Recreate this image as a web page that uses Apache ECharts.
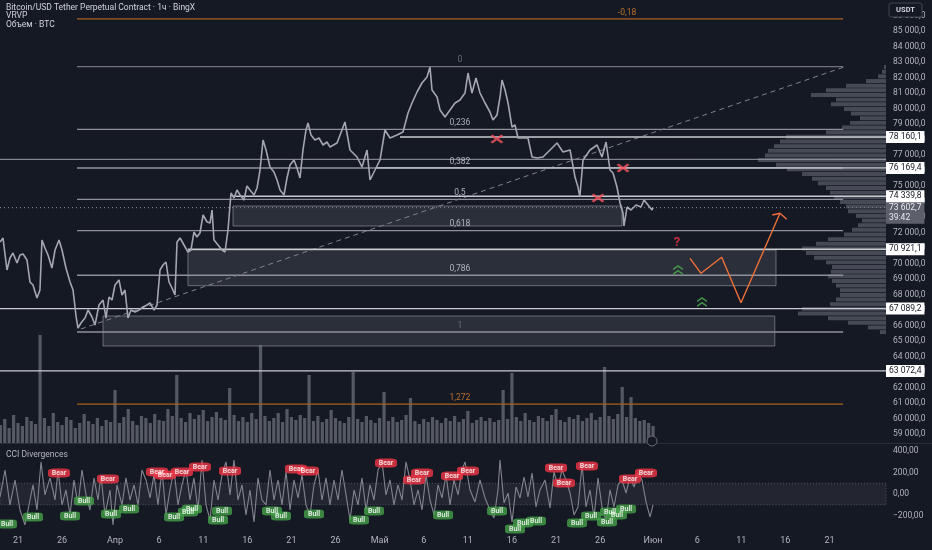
<!DOCTYPE html>
<html><head><meta charset="utf-8">
<script src="https://cdn.jsdelivr.net/npm/echarts@6/dist/echarts.min.js"></script>
<style>html,body{margin:0;padding:0;background:#151924;}#c{width:932px;height:550px;}</style>
</head><body><div id="c"></div>
<script>
// ---------- data ----------
const tickDays   = [0,5,11,16,21,26,31,36,41,46,51,56,61,66,72,77,82,87,92]; // days since 21 Mar
const tickLabels = ['21','26','Апр','6','11','16','21','26','Май','6','11','16','21','26','Июн','6','11','16','21'];
const priceTicks = [59000,60000,61000,62000,63000,64000,65000,66000,67000,68000,69000,70000,71000,72000,73000,74000,75000,76000,77000,78000,79000,80000,81000,82000,83000,84000,85000,86000];
const cciTicks   = [400,200,0,-200];

const price = [[-2.04,71387],[-1.70,71645],[-1.25,69581],[-0.91,70355],[-0.57,70677],[-0.11,70032],[0.23,70548],[0.57,70613],[1.02,70226],[1.36,68807],[1.70,68613],[2.15,67774],[2.49,68290],[2.72,71516],[3.06,71000],[3.40,70548],[3.85,69710],[4.20,70871],[4.65,71516],[4.99,70871],[5.44,69710],[5.90,68807],[6.24,68290],[6.58,66613],[6.80,65839],[7.14,66161],[7.60,66484],[7.94,67000],[8.39,66548],[8.73,66032],[9.18,67323],[9.64,67645],[9.98,66484],[10.32,67839],[10.66,67645],[11.00,68613],[11.45,68936],[11.79,67968],[12.13,68290],[12.47,66484],[12.81,67000],[13.27,66871],[13.72,67000],[14.17,67194],[14.63,67323],[14.97,67452],[15.42,67000],[15.76,67323],[16.10,69581],[16.44,69903],[16.78,70097],[17.12,68807],[17.46,68419],[17.80,67968],[18.03,71387],[18.37,71645],[18.82,71194],[19.27,70742],[19.61,70871],[19.95,72032],[20.29,71710],[20.63,71968],[20.98,73129],[21.43,72677],[21.77,72613],[22.00,73452],[22.22,71516],[22.68,71194],[23.13,70871],[23.47,70742],[23.81,72161],[24.15,74548],[24.49,74226],[24.83,74742],[25.17,74419],[25.62,74097],[25.96,75000],[26.30,74742],[26.76,74419],[27.10,74871],[27.44,76032],[27.78,77968],[28.12,77323],[28.57,76226],[29.02,75903],[29.37,75387],[29.71,74742],[30.16,74419],[30.50,75516],[30.84,76355],[31.29,76677],[31.63,76161],[31.97,75516],[32.31,77323],[32.65,78613],[32.88,79065],[33.22,78290],[33.67,77968],[34.13,78097],[34.58,77645],[35.03,77839],[35.37,77516],[36.17,77774],[37.07,79129],[37.64,77323],[38.44,76871],[39.00,76226],[39.57,77323],[39.91,75387],[40.48,76032],[41.04,76677],[41.61,78613],[42.18,78097],[42.97,78290],[43.65,78484],[44.22,79710],[44.67,80355],[45.24,81065],[45.80,81645],[46.37,82032],[46.71,82677],[46.94,81194],[47.51,80742],[47.85,79903],[48.41,79452],[48.98,79903],[49.55,80355],[50.11,80548],[50.68,81000],[51.02,82290],[51.47,81000],[51.93,81968],[52.38,81000],[52.95,80355],[53.51,79774],[53.85,79258],[54.31,79581],[54.65,80742],[54.88,81839],[55.22,81194],[55.56,80355],[56.01,78806],[56.35,78935],[56.69,78097],[57.26,78097],[57.82,78097],[58.28,76871],[58.84,76806],[59.52,76871],[60.32,77323],[61.11,77774],[61.79,77194],[62.59,77323],[63.15,75581],[63.49,74935],[63.70,74290],[64.06,76677],[64.85,77323],[65.65,77645],[66.21,76871],[66.67,77839],[67.12,76032],[67.46,75839],[67.91,74935],[68.25,73903],[68.59,73258],[68.70,72419],[69.05,73645],[69.50,73452],[70.07,73774],[70.63,73645],[70.98,74097],[71.43,73774],[71.88,73452],[72.00,73603]];

const volStart = -2, volStep = 0.5;
const volume = [180,240,150,280,200,170,260,220,190,1080,250,170,300,210,180,260,230,150,200,290,220,190,250,170,230,210,530,200,260,340,220,180,270,250,200,290,230,220,340,270,680,250,210,300,240,280,330,220,260,310,250,230,550,280,220,260,210,300,240,980,270,220,250,300,210,340,260,230,280,250,680,220,270,210,240,330,250,220,200,260,710,240,210,270,230,200,250,510,220,260,210,230,280,450,220,190,240,210,260,230,200,250,220,270,210,240,320,200,230,260,220,250,210,230,530,240,700,260,220,300,230,210,270,250,220,280,340,230,210,260,240,280,220,250,300,230,260,760,270,240,290,560,260,460,250,220,230,200,170];

const cci = [[-2.04,-28],[-1.47,223],[-0.91,-102],[-0.34,130],[0.23,-149],[0.79,-288],[1.36,-56],[1.70,84],[2.15,-149],[2.61,298],[3.06,-9],[3.63,149],[4.20,-56],[4.54,223],[4.99,-102],[5.44,37],[5.90,-195],[6.35,130],[6.80,-102],[7.26,223],[7.71,-9],[8.16,-149],[8.62,149],[9.07,-56],[9.41,177],[9.86,-195],[10.43,37],[10.77,-288],[11.22,84],[11.79,-102],[12.24,149],[12.70,-56],[13.15,84],[13.61,-102],[14.06,223],[14.51,130],[14.97,-37],[15.42,177],[15.87,-102],[16.33,223],[16.78,-195],[17.23,37],[17.69,223],[18.14,-102],[18.59,84],[19.05,223],[19.50,-56],[19.95,149],[20.41,-149],[20.86,316],[21.32,-102],[21.77,-242],[22.22,130],[22.68,-56],[23.13,177],[23.58,298],[24.04,-9],[24.49,316],[24.94,-56],[25.40,84],[25.85,-195],[26.30,37],[26.76,-260],[27.21,149],[27.66,-56],[28.12,-102],[28.57,223],[29.02,-56],[29.48,130],[29.93,-102],[30.39,205],[30.84,-149],[31.29,130],[31.75,-37],[32.20,177],[32.65,-102],[33.11,-195],[33.56,84],[34.01,223],[34.47,-56],[34.92,149],[35.37,-102],[35.83,130],[36.28,-56],[36.73,223],[37.19,-9],[37.64,-242],[38.10,37],[38.55,-102],[39.00,149],[39.46,-149],[39.91,84],[40.36,-56],[40.82,223],[41.27,298],[41.72,-9],[42.18,130],[42.63,-102],[43.08,84],[43.54,-56],[43.99,298],[44.45,130],[44.90,-102],[45.35,37],[45.81,-149],[46.26,177],[46.71,-56],[47.17,-195],[47.62,84],[48.07,-37],[48.53,177],[48.98,-102],[49.43,130],[49.89,-9],[50.34,223],[50.68,298],[51.25,37],[51.81,-74],[52.38,130],[52.95,-37],[53.51,-149],[53.97,-223],[54.42,37],[54.65,316],[55.10,-84],[55.56,9],[56.01,-260],[56.46,65],[56.92,-37],[57.37,158],[57.82,-28],[58.28,195],[58.73,-121],[59.18,37],[59.75,130],[60.32,-130],[60.77,205],[61.23,65],[61.68,223],[62.13,130],[62.59,9],[63.04,-195],[63.49,-121],[63.95,270],[64.40,-121],[64.85,37],[65.31,-214],[65.76,149],[66.21,-121],[66.67,-242],[67.12,37],[67.57,-121],[68.03,84],[68.48,130],[68.94,9],[69.39,158],[69.84,65],[70.30,195],[70.75,130],[71.20,-74],[71.66,-214],[72.00,-102]];

const bearLabels = [[4.65,195],[10.20,140],[15.76,205],[16.67,177],[18.59,205],[20.63,251],[24.04,214],[31.52,233],[32.88,214],[41.72,288],[44.90,130],[45.81,195],[49.21,167],[51.02,214],[61.00,242],[61.91,102],[64.51,260],[69.39,140],[71.20,195]];
const bullLabels = [[-1.25,-279],[1.70,-214],[5.90,-205],[7.48,-65],[10.54,-186],[12.59,-140],[17.69,-214],[19.27,-167],[19.73,-140],[22.68,-242],[23.13,-158],[28.80,-158],[29.82,-205],[33.56,-186],[38.66,-242],[40.36,-158],[48.19,-195],[54.31,-158],[56.35,-326],[57.26,-270],[58.73,-251],[63.38,-270],[64.97,-205],[66.78,-260],[67.12,-167],[67.91,-195],[68.94,-140]];

const fibHigh = 82700, fibLow = 65580, fibStart = 6.69, fibEnd = 93.55;
const fibRatios = [-0.18, 0, 0.236, 0.382, 0.5, 0.618, 0.786, 1, 1.272];
const fibTexts  = ['-0,18','0','0,236','0,382','0,5','0,618','0,786','1','1,272'];
const fibLabelDays = [69.05, 50.1, 50.1, 50.1, 50.1, 50.1, 50.1, 50.1, 50.1];

const priceLineValues = [78160.1, 76169.4, 74339.8, 70921.1, 67089.2, 63072.4];
const priceLineStarts = [43.31, 40.70, 24.38, 19.27, -2.04, -2.04];
const plainLineValues = [76720];
const lastPrice = 73602.7, countdown = '39:42';

const zoneStarts = [24.38, 19.27, 9.64];
const zoneEnds   = [68.48, 85.94, 85.80];
const zoneTops   = [73710, 70871, 66613];
const zoneBottoms= [72419, 68568, 64678];

const trendLine = [[7.14,65774],[93.66,82677]];
const forecastPath = [[76.19,70335],[77.44,69368],[79.78,70400],[81.97,67471],[86.39,73239]];
const arrowHead = [[85.52,73129],[86.39,73239],[87.15,72852]];
const crossMarks = [[54.3,78032],[68.6,76161],[65.76,74226]];
const chevronMarks = [[74.83,69581],[77.55,67516]];
const questionMark = [74.7,71323];

const profileTop = 82650, profileBin = 300;
const profileVolumes = [20,40,80,200,400,600,750,500,550,420,350,260,360,440,600,1000,1060,1120,1180,1210,1280,1100,990,840,740,680,600,560,520,460,400,380,300,240,280,340,420,580,700,840,800,720,600,540,550,580,540,500,460,460,500,560,840,880,580,380,180,60];

// ---------- chart ----------
const X_MIN = -2.04, X_MAX = 98.41;
const FONT = 'Roboto, "Noto Sans", sans-serif';
const AX = '#b2b5be';
function fmtNum(n, dec){
  const s = Math.abs(n).toFixed(dec).split('.');
  s[0] = s[0].replace(/\B(?=(\d{3})+(?!\d))/g, ' ');
  return (n < 0 ? '−' : '') + s.join(',');
}
const chart = echarts.init(document.getElementById('c'));

const series = [];
series.push({
  type:'line', name:'price', xAxisIndex:0, yAxisIndex:0, data:price, symbol:'none',
  lineStyle:{color:'#a4a7af', width:1.6}, z:6, animation:false, silent:true,
  markArea:{silent:true, z:1,
    itemStyle:{color:'rgba(134,137,147,0.2)', borderColor:'rgba(165,168,177,0.55)', borderWidth:1},
    data: zoneStarts.map((s,i)=>[{coord:[s, zoneTops[i]]},{coord:[zoneEnds[i], zoneBottoms[i]]}])
  }
});
fibRatios.forEach((r,i)=>{
  const lvl = fibHigh - r*(fibHigh - fibLow);
  const orange = (r < 0 || r > 1);
  series.push({type:'line', xAxisIndex:0, yAxisIndex:0, data:[[fibStart,lvl],[fibEnd,lvl]], symbol:'none', silent:true, animation:false, z:3,
    lineStyle:{color: orange ? '#a8621f' : (r===0 ? '#6f727b' : '#8e9199'), width: orange ? 1.2 : 1.3}});
});
series.push({type:'scatter', xAxisIndex:0, yAxisIndex:0, symbolSize:0, silent:true, animation:false, z:7,
  data: fibRatios.map((r,i)=>({value:[fibLabelDays[i], fibHigh - r*(fibHigh-fibLow)],
    label:{show:true, position:'top', distance:2, formatter: fibTexts[i], fontFamily:FONT, fontSize:8.5,
      color:(r<0||r>1)?'#e0832c':((r===1||r===0)?'#7d808a':'#d1d4dc')}}))
});
// last price dotted (drawn first so the 74 339,8 tag stays on top)
series.push({type:'line', xAxisIndex:0, yAxisIndex:0, data:[[X_MIN,lastPrice],[X_MAX,lastPrice]], symbol:'none', silent:true, animation:false, z:4,
  lineStyle:{color:'#8a8d96', width:1, type:[1,3]},
  endLabel:{show:true, formatter: fmtNum(lastPrice,1)+'\n'+countdown, distance:0, offset:[0,5], backgroundColor:'#5d606b', color:'#e8eaf0', fontFamily:FONT, fontSize:8.5, lineHeight:10, padding:[1,3,1,3]}});
priceLineValues.forEach((v,i)=>{
  series.push({type:'line', xAxisIndex:0, yAxisIndex:0, data:[[priceLineStarts[i],v],[X_MAX,v]], symbol:'none', silent:true, animation:false, z:5,
    lineStyle:{color:'#c9cbd1', width:1.4},
    endLabel:{show:true, formatter: fmtNum(v,1), distance:0, backgroundColor:'#ffffff', color:'#131722', fontFamily:FONT, fontSize:8.5, padding:[2,3,1,3]}});
});
plainLineValues.forEach(v=>{
  series.push({type:'line', xAxisIndex:0, yAxisIndex:0, data:[[X_MIN,v],[X_MAX,v]], symbol:'none', silent:true, animation:false, z:3,
    lineStyle:{color:'#9a9da5', width:1}});
});
series.push({type:'line', xAxisIndex:0, yAxisIndex:0, data:trendLine, symbol:'none', silent:true, animation:false, z:3,
  lineStyle:{color:'#80838c', width:1, type:[5,4]}});
series.push({type:'line', xAxisIndex:0, yAxisIndex:0, data:forecastPath, symbol:'none', silent:true, animation:false, z:8,
  lineStyle:{color:'#f0703a', width:1.4}});
series.push({type:'line', xAxisIndex:0, yAxisIndex:0, data:arrowHead, symbol:'none', silent:true, animation:false, z:8,
  lineStyle:{color:'#f0703a', width:1.4}});
series.push({type:'scatter', xAxisIndex:0, yAxisIndex:0, data:crossMarks, silent:true, animation:false, z:9,
  symbol:'path://M2,0 L6,3.2 L10,0 L12,1.6 L8,4.5 L12,7.4 L10,9 L6,5.8 L2,9 L0,7.4 L4,4.5 L0,1.6 Z',
  symbolSize:[13,9], itemStyle:{color:'#f7525f'}});
series.push({type:'scatter', xAxisIndex:0, yAxisIndex:0, data:chevronMarks, silent:true, animation:false, z:9,
  symbol:'path://M0,4 L5,0 L10,4 L10,6 L5,2.2 L0,6 Z M0,9.5 L5,5.5 L10,9.5 L10,11.5 L5,7.7 L0,11.5 Z',
  symbolSize:[10,10], itemStyle:{color:'#4caf50'}});
series.push({type:'scatter', xAxisIndex:0, yAxisIndex:0, data:[questionMark], symbolSize:0, silent:true, animation:false, z:9,
  label:{show:true, position:'inside', formatter:'?', color:'#f23645', fontSize:13, fontWeight:'bold', fontFamily:FONT}});
series.push({type:'custom', xAxisIndex:3, yAxisIndex:0, silent:true, animation:false, z:2,
  data: profileVolumes.map((v,i)=>[v, profileTop - i*profileBin]),
  renderItem:(params, api)=>{
    const v = api.value(0), p = api.value(1);
    const a = api.coord([v, p + profileBin/2]);
    const b = api.coord([0, p - profileBin/2]);
    return {type:'rect', shape:{x:a[0], y:a[1], width:b[0]-a[0], height:Math.max(1,b[1]-a[1]-0.7)},
      style:{fill:'rgba(112,115,126,0.55)'}};
  }
});
series.push({type:'bar', xAxisIndex:2, yAxisIndex:2, data: volume.map((v,i)=>[volStart + i*volStep, v]),
  barWidth:3.2, silent:true, animation:false, itemStyle:{color:'rgba(128,131,141,0.6)'}, z:1});
series.push({type:'line', xAxisIndex:1, yAxisIndex:1, data:cci, symbol:'none', silent:true, animation:false, z:3,
  lineStyle:{color:'#82858d', width:1.1},
  markArea:{silent:true, itemStyle:{color:'rgba(120,123,134,0.14)', borderColor:'rgba(120,123,134,0.6)', borderWidth:1, borderType:[1,2]},
    data:[[{coord:[X_MIN,100]},{coord:[X_MAX,-100]}]]}
});
const tagLabel = (txt)=>({show:true, position:'inside', formatter:txt, color:'#ffffff', fontSize:7, fontWeight:'bold', fontFamily:FONT});
series.push({type:'scatter', xAxisIndex:1, yAxisIndex:1, data:bearLabels, symbol:'roundRect', symbolSize:[22,9], silent:true, animation:false, z:6,
  itemStyle:{color:'#f23645'}, label:tagLabel('Bear')});
series.push({type:'scatter', xAxisIndex:1, yAxisIndex:1, data:bullLabels, symbol:'roundRect', symbolSize:[20,9], silent:true, animation:false, z:6,
  itemStyle:{color:'#43a047'}, label:tagLabel('Bull')});

const hiddenX = (grid)=>({type:'value', gridIndex:grid, min:X_MIN, max:X_MAX, show:false});
const option = {
  backgroundColor:'#151924',
  animation:false,
  grid:[
    {left:0, right:46, top:0, height:443},
    {left:0, right:46, top:443, height:87},
    {left:0, right:46, top:323, height:120}
  ],
  xAxis:[
    hiddenX(0),
    {type:'value', gridIndex:1, min:X_MIN, max:X_MAX, axisLine:{show:false}, axisTick:{show:false}, splitLine:{show:false},
      axisLabel:{customValues:tickDays, color:AX, fontSize:9, fontFamily:FONT, margin:6,
        formatter:(v)=>{const k = tickDays.indexOf(v); return k>=0 ? tickLabels[k] : '';}}},
    hiddenX(2),
    {type:'value', gridIndex:0, position:'top', inverse:true, min:0, max:8860, show:false}
  ],
  yAxis:[
    {type:'value', gridIndex:0, position:'right', min:58420, max:87000, axisLine:{show:false}, axisTick:{show:false}, splitLine:{show:false},
      axisLabel:{customValues:priceTicks, color:AX, fontSize:8.5, fontFamily:FONT, margin:7, formatter:(v)=>fmtNum(v,1)}},
    {type:'value', gridIndex:1, position:'right', min:-335, max:474, axisLine:{show:false}, axisTick:{show:false}, splitLine:{show:false},
      axisLabel:{customValues:cciTicks, color:AX, fontSize:8.5, fontFamily:FONT, margin:7, formatter:(v)=>fmtNum(v,2)}},
    {type:'value', gridIndex:2, min:0, max:1200, show:false}
  ],
  graphic:[
    {type:'line', shape:{x1:0, y1:443.5, x2:932, y2:443.5}, style:{stroke:'#2a2e39', lineWidth:1}, z:20},
    {type:'text', x:6, y:3, style:{text:'Bitcoin/USD Tether Perpetual Contract · 1ч · BingX', fill:'#d1d4dc', font:'8.5px '+FONT}, z:20},
    {type:'text', x:6, y:11.5, style:{text:'VRVP', fill:'#d1d4dc', font:'8.5px '+FONT}, z:20},
    {type:'text', x:6, y:20, style:{text:'Объем · BTC', fill:'#d1d4dc', font:'8.5px '+FONT}, z:20},
    {type:'text', x:6, y:450, style:{text:'CCI Divergences', fill:'#b2b5be', font:'8.5px '+FONT}, z:20},
    {type:'rect', shape:{x:889, y:3, width:33, height:14, r:2}, style:{fill:'#151924', stroke:'#434651', lineWidth:1}, z:30},
    {type:'text', x:905.5, y:10, style:{text:'USDT', fill:'#d1d4dc', font:'bold 7.5px '+FONT, align:'center', verticalAlign:'middle'}, z:31},
    {type:'circle', shape:{cx:652, cy:441, r:5}, style:{fill:'#151924', stroke:'#6a6d78', lineWidth:1}, z:20}
  ],
  series
};
chart.setOption(option);
</script>
</body></html>
